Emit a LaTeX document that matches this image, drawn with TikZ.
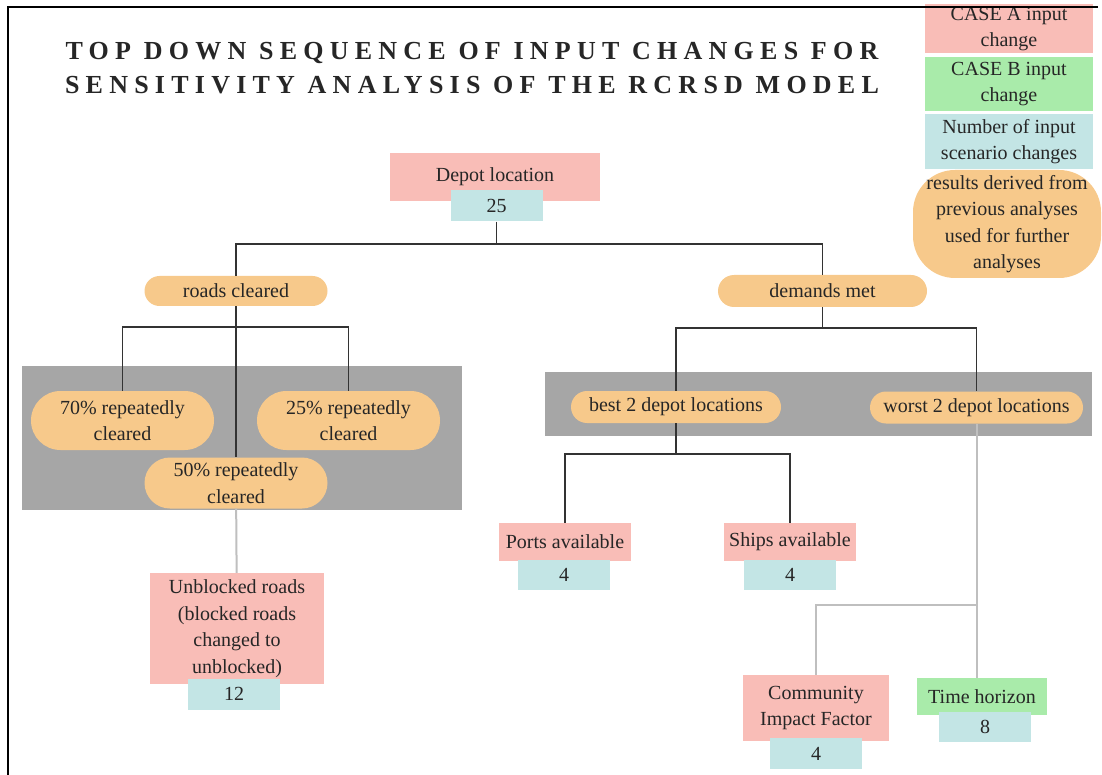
\documentclass[tikz,border=0pt]{standalone}
\usepackage{fontspec}
\setmainfont{Liberation Serif}
\newfontfamily\diagfont{Liberation Serif}
\usetikzlibrary{shapes.misc}

\definecolor{pinkA}{RGB}{249,189,183}
\definecolor{greenB}{RGB}{169,235,170}
\definecolor{tealN}{RGB}{195,229,229}
\definecolor{orangeD}{RGB}{247,201,139}
\definecolor{panelgray}{RGB}{166,166,166}

\begin{document}
\begin{tikzpicture}[x=1pt, y=-1pt, every node/.style={font=\diagfont\fontsize{20}{26.5}\selectfont, text=black!85}]

\useasboundingbox (0,0) rectangle (1102,775);

% Define styles for the tree
\tikzstyle{inputA} = [rectangle, fill=pinkA, align=center, inner sep=0pt]
\tikzstyle{inputB} = [rectangle, fill=greenB, align=center, inner sep=0pt]
\tikzstyle{count} = [rectangle, fill=tealN, align=center, inner sep=0pt, minimum width=92pt, minimum height=31pt]
\tikzstyle{derived} = [rounded rectangle, fill=orangeD, align=center, inner sep=0pt, minimum width=183pt]
\tikzstyle{panel} = [fill=panelgray]
\tikzstyle{link} = [line width=1.5pt, draw=black!80]
\tikzstyle{faded} = [line width=2pt, draw=black!25]

% Grey panels
\fill [panel] (22,366) rectangle (462,510);
\fill [panel] (545,372) rectangle (1092,436);

% Title
\node (title) [align=center, font=\diagfont\fontsize{26}{34}\selectfont\bfseries\addfontfeature{LetterSpace=24}] at (472,68)
  {TOP DOWN SEQUENCE OF INPUT CHANGES FOR\\SENSITIVITY ANALYSIS OF THE RCRSD MODEL};

% Legend
\node (legA) [inputA, minimum width=168pt, minimum height=49pt] at (1009,29) {CASE A input\\change};
\node (legB) [inputB, minimum width=168pt, minimum height=54pt] at (1009,84) {CASE B input\\change};
\node (legN) [count, minimum width=168pt, minimum height=55pt] at (1009,141.5) {Number of input\\scenario changes};
\node (legD) [rectangle, rounded corners=42pt, fill=orangeD, align=center, inner sep=0pt,
  minimum width=188pt, minimum height=108pt] at (1007,224)
  {results derived from\\previous analyses\\used for further\\analyses};

% Nodes
\node (depot) [inputA, minimum width=210pt, minimum height=48pt] at (495,177) {Depot location};
\node (depotnum) [count] at (496.5,206) {25};

\node (roads) [derived, minimum height=30pt] at (236,291) {roads cleared};
\node (demands) [derived, minimum width=209pt, minimum height=32pt] at (822.5,291) {demands met};

\node (r70) [derived, minimum height=59pt] at (122.5,420.5) {70\% repeatedly\\cleared};
\node (r25) [derived, minimum height=59pt] at (348.5,420.5) {25\% repeatedly\\cleared};
\node (r50) [derived, minimum height=51pt] at (236,483) {50\% repeatedly\\cleared};

\node (best) [derived, minimum width=210pt, minimum height=32pt] at (676,407) {best 2 depot locations};
\node (worst) [derived, minimum width=213pt, minimum height=32pt] at (976.5,407.5) {worst 2 depot locations};

\node (unblocked) [inputA, minimum width=174pt, minimum height=111pt] at (237,628.5)
  {Unblocked roads\\(blocked roads\\changed to\\unblocked)};
\node (unblockednum) [count] at (234,694) {12};

\node (ports) [inputA, minimum width=132pt, minimum height=38pt] at (565,542) {Ports available};
\node (portsnum) [count, minimum height=30pt] at (564,575) {4};
\node (ships) [inputA, minimum width=132pt, minimum height=38pt] at (790,542) {Ships available};
\node (shipsnum) [count, minimum height=30pt] at (790,575) {4};

\node (impact) [inputA, minimum width=146pt, minimum height=66pt] at (816,708) {Community\\Impact Factor};
\node (impactnum) [count] at (816,753.5) {4};
\node (horizon) [inputB, minimum width=130pt, minimum height=37pt] at (982,696.5) {Time horizon};
\node (horizonnum) [count, minimum height=30pt] at (985,727) {8};

% Bus points
\coordinate (topbus) at (496.5,244);
\coordinate (roadsbus) at (236,327);
\coordinate (demandsbus) at (822.5,328);
\coordinate (bestbus) at (676,454);
\coordinate (worstbus) at (977,605);

% Connectors
\draw [link] (depotnum) -- (topbus);
\draw [link] (topbus) -| (roads);
\draw [link] (topbus) -| (demands);
\draw [link] (roads) -- (roadsbus);
\draw [link] (roadsbus) -| (r70);
\draw [link] (roadsbus) -| (r25);
\draw [link] (roadsbus) -- (r50);
\draw [link] (demands) -- (demandsbus);
\draw [link] (demandsbus) -| (best);
\draw [link] (demandsbus) -| (worst);
\draw [link] (best) -- (bestbus);
\draw [link] (bestbus) -| (ports);
\draw [link] (bestbus) -| (ships);
\draw [faded] (r50) -- (unblocked);
\draw [faded] (worst.south) -- (worst.south |- horizon.north);
\draw [faded] (worstbus) -| (impact);

% Frame
\draw [line width=2pt] (8,775) -- (8,7) -- (1098,7);

\end{tikzpicture}
\end{document}
